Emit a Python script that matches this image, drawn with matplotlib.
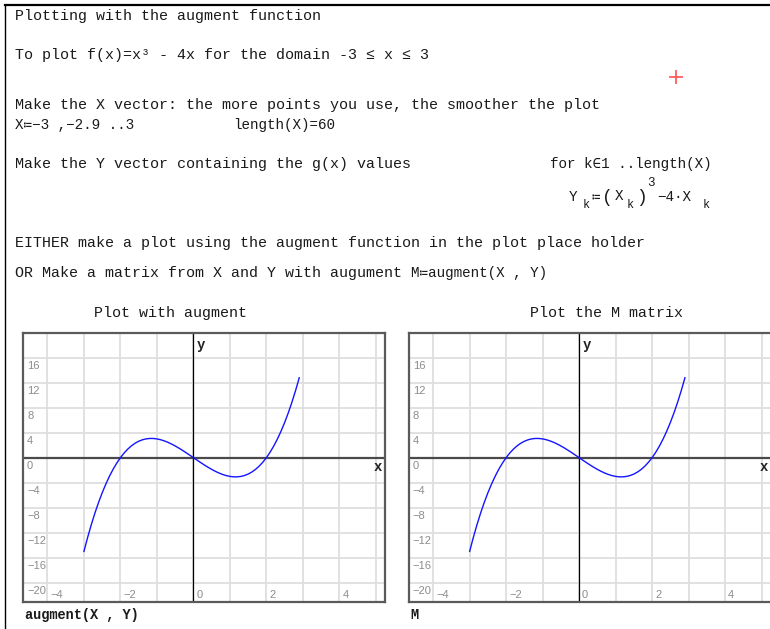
import matplotlib
matplotlib.use("Agg")
import matplotlib.pyplot as plt
from matplotlib.lines import Line2D
import matplotlib.transforms as mtransforms

# ---------------- data ----------------
x_values = [-3.0, -2.9, -2.8, -2.7, -2.6, -2.5, -2.4, -2.3, -2.2, -2.1,
            -2.0, -1.9, -1.8, -1.7, -1.6, -1.5, -1.4, -1.3, -1.2, -1.1,
            -1.0, -0.9, -0.8, -0.7, -0.6, -0.5, -0.4, -0.3, -0.2, -0.1,
            0.0, 0.1, 0.2, 0.3, 0.4, 0.5, 0.6, 0.7, 0.8, 0.9,
            1.0, 1.1, 1.2, 1.3, 1.4, 1.5, 1.6, 1.7, 1.8, 1.9,
            2.0, 2.1, 2.2, 2.3, 2.4, 2.5, 2.6, 2.7, 2.8, 2.9]
y_values = [-15.0, -12.789, -10.752, -8.883, -7.176, -5.625, -4.224, -2.967, -1.848, -0.861,
            0.0, 0.741, 1.368, 1.887, 2.304, 2.625, 2.856, 3.003, 3.072, 3.069,
            3.0, 2.871, 2.688, 2.457, 2.184, 1.875, 1.536, 1.173, 0.792, 0.399,
            0.0, -0.399, -0.792, -1.173, -1.536, -1.875, -2.184, -2.457, -2.688, -2.871,
            -3.0, -3.069, -3.072, -3.003, -2.856, -2.625, -2.304, -1.887, -1.368, -0.741,
            0.0, 0.861, 1.848, 2.967, 4.224, 5.625, 7.176, 8.883, 10.752, 12.789]
x_grid = [-4, -3, -2, -1, 0, 1, 2, 3, 4, 5]
y_grid = [-20, -16, -12, -8, -4, 0, 4, 8, 12, 16]
x_tick_labels = [-4, -2, 0, 2, 4]
y_tick_labels = [16, 12, 8, 4, 0, -4, -8, -12, -16, -20]

W, H = 770, 629
fig = plt.figure(figsize=(W / 100, H / 100), dpi=100)
fig.patch.set_facecolor("white")

MONO = ["Liberation Mono", "DejaVu Sans Mono"]
TXT = "#1a1a1a"
MATH = 10.3


def ftext(x, y, s, size=10.8, ha="left", va="center", weight="normal", color=TXT, family=MONO):
    fig.text(x / W, 1 - y / H, s, fontsize=size, ha=ha, va=va, weight=weight,
             color=color, family=family)


def fline(xs, ys, **kw):
    fig.add_artist(Line2D([x / W for x in xs], [1 - y / H for y in ys],
                          transform=fig.transFigure, **kw))


# frame of worksheet
fline([5, 770], [5, 5], color="black", lw=1.6)
fline([5, 5], [5, 629], color="black", lw=1.0)
# red cursor
fline([670, 682], [77, 77], color="#ff5a5a", lw=1.3)
fline([676, 676], [71, 83], color="#ff5a5a", lw=1.3)

# ---------------- texts ----------------
ftext(15, 16, "Plotting with the augment function")
ftext(15, 55, "To plot f(x)=x³ - 4x for the domain -3 ≤ x ≤ 3")
ftext(15, 105, "Make the X vector: the more points you use, the smoother the plot")
ftext(15, 125, "X≔−3 ,−2.9 ..3", size=MATH)
ftext(233, 125, "length(X)=60", size=MATH)
ftext(15, 164, "Make the Y vector containing the g(x) values")
ftext(550, 164, "for k∈1 ..length(X)", size=MATH)
# Y_k := (X_k)^3 - 4*X_k
ftext(569, 197, "Y", size=MATH)
ftext(583, 205, "k", size=8.5)
ftext(592, 197, "≔", size=MATH)
ftext(602, 197, "(", size=13)
ftext(615, 196, "X", size=MATH)
ftext(627, 205, "k", size=8.5)
ftext(636, 197, ")", size=13)
ftext(647, 183, "3", size=9)
ftext(657, 197, "−4·X", size=MATH)
ftext(703, 205, "k", size=8.5)

ftext(15, 243, "EITHER make a plot using the augment function in the plot place holder")
ftext(15, 273, "OR Make a matrix from X and Y with augument")
ftext(411, 273, "M≔augment(X , Y)", size=MATH)

ftext(171, 313, "Plot with augment", ha="center")
ftext(607, 313, "Plot the M matrix", ha="center")
ftext(25, 615, "augment(X , Y)", size=9.8, weight="bold")
ftext(410, 615, "M", size=9.8, weight="bold")

# ---------------- plots ----------------
x0, x1 = -4.67, 5.25
y0, y1 = -23.1, 19.95
axw, axh = 362, 269
bottom = (H - 602) / H


def make_plot(left_px, show_right):
    ax = fig.add_axes([left_px / W, bottom, axw / W, axh / H])
    ax.set_xlim(x0, x1)
    ax.set_ylim(y0, y1)
    ax.set_xticks(x_grid)
    ax.set_yticks(y_grid)
    ax.tick_params(length=0, labelbottom=False, labelleft=False)
    ax.grid(True, color="#dedede", lw=1.3, zorder=0)
    ax.set_axisbelow(True)
    for side in ["top", "left", "bottom", "right"]:
        ax.spines[side].set_color("#5a5a5a")
        ax.spines[side].set_linewidth(1.6)
    ax.spines["right"].set_visible(show_right)
    ax.axhline(0, color="#4a4a4a", lw=1.6, zorder=2)
    ax.axvline(0, color="black", lw=0.9, zorder=2)
    ax.plot(x_values, y_values, color="#1414ff", lw=1.0, zorder=3)

    # tick labels inside the plot
    ylab_tr = mtransforms.offset_copy(ax.get_yaxis_transform(), fig=fig, x=4, y=-8, units="dots")
    for v in y_tick_labels:
        ax.text(0, v, str(v).replace("-", "−"), transform=ylab_tr, ha="left", va="center",
                fontsize=8, color="#8c8c8c", family=["Liberation Sans", "DejaVu Sans"])
    xlab_tr = mtransforms.offset_copy(ax.get_xaxis_transform(), fig=fig, x=3, y=0, units="dots")
    for v in x_tick_labels:
        ax.text(v, 0.026, str(v).replace("-", "−"), transform=xlab_tr, ha="left", va="center",
                fontsize=8, color="#8c8c8c", family=["Liberation Sans", "DejaVu Sans"])
    ax.text(0.1, 18.0, "y", ha="left", va="center", fontsize=10, weight="bold",
            color="#222222", family=MONO)
    ax.text(4.95, -1.5, "x", ha="left", va="center", fontsize=10, weight="bold",
            color="#222222", family=MONO)
    return ax


make_plot(23, True)
make_plot(408.7, False)

fig.savefig("out.png", dpi=100, facecolor="white")
